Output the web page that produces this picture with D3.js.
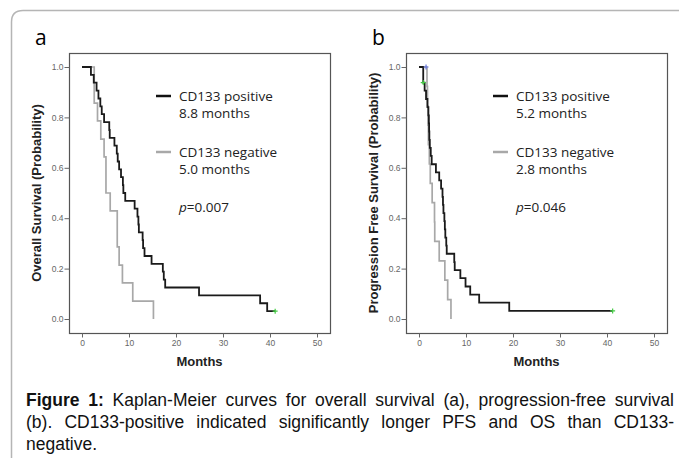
<!DOCTYPE html>
<html>
<head>
<meta charset="utf-8">
<script src="https://cdn.jsdelivr.net/npm/d3@7"></script>
<style>
  body { margin: 0; background: #fff; }
  svg { display: block; }
</style>
</head>
<body>
<div id="chartDiv"></div>
<script>
// ---- data (months, survival probability) ----
var osPositive = [
	[0, 1], [1.9, 0.969], [2.5, 0.938], [3.1, 0.906], [3.5, 0.875], [3.9, 0.844],
	[4.2, 0.813], [4.7, 0.781], [5.8, 0.75], [5.9, 0.719], [6.9, 0.688], [7.4, 0.656],
	[7.6, 0.625], [7.9, 0.594], [8.3, 0.563], [8.7, 0.531], [8.8, 0.5], [9.2, 0.469],
	[11.2, 0.438], [11.8, 0.406], [12.0, 0.375], [12.1, 0.344], [12.9, 0.313], [13.0, 0.281],
	[13.3, 0.25], [14.8, 0.219], [17.2, 0.188], [17.4, 0.156], [17.7, 0.125], [24.9, 0.094],
	[37.9, 0.0625], [39.4, 0.031], [41.1, 0.031]
];
var osNegative = [
	[0, 1], [2.6, 0.857], [3.3, 0.786], [4.0, 0.714], [4.7, 0.643], [5.1, 0.5],
	[6.0, 0.429], [7.5, 0.286], [7.9, 0.214], [8.6, 0.143], [10.8, 0.071], [15.2, 0]
];
var pfsPositive = [
	[0, 1], [0.9, 0.938], [1.2, 0.906], [1.5, 0.873], [1.8, 0.841], [2.0, 0.808],
	[2.1, 0.776], [2.15, 0.744], [2.2, 0.711], [2.3, 0.679], [2.5, 0.647], [2.7, 0.614],
	[3.6, 0.582], [4.3, 0.55], [4.7, 0.517], [5.0, 0.485], [5.1, 0.453], [5.2, 0.42],
	[5.4, 0.388], [5.5, 0.356], [5.6, 0.323], [5.8, 0.291], [5.9, 0.259], [7.5, 0.226],
	[7.6, 0.194], [8.8, 0.162], [9.9, 0.129], [10.9, 0.097], [12.8, 0.065], [19.2, 0.032],
	[41.2, 0.032]
];
var pfsNegative = [
	[0, 1], [1.7, 0.923], [1.8, 0.846], [1.9, 0.769], [2.0, 0.692], [2.2, 0.615],
	[2.4, 0.538], [2.8, 0.462], [3.3, 0.385], [3.35, 0.308], [4.3, 0.231], [5.5, 0.154],
	[6.1, 0.077], [6.8, 0]
];
// censored observations
var osCensored = [{t: 41.1, s: 0.031, c: "#44cc44"}];
var pfsCensored = [
	{t: 0.9, s: 0.938, c: "#44cc44"},
	{t: 1.5, s: 1.0, c: "#6677dd"},
	{t: 41.2, s: 0.032, c: "#44cc44"}
];

var xTicks = [0, 10, 20, 30, 40, 50];
var yTicks = [0, 0.2, 0.4, 0.6, 0.8, 1.0];

var panels = [
	{ letter: "a", left: 69, ytitle: "Overall Survival (Probability)",
	  pos: osPositive, neg: osNegative, cens: osCensored,
	  posLabel: ["CD133 positive", "8.8 months"], negLabel: ["CD133 negative", "5.0 months"],
	  p: "=0.007" },
	{ letter: "b", left: 406, ytitle: "Progression Free Survival (Probability)",
	  pos: pfsPositive, neg: pfsNegative, cens: pfsCensored,
	  posLabel: ["CD133 positive", "5.2 months"], negLabel: ["CD133 negative", "2.8 months"],
	  p: "=0.046" }
];

var captionLines = [
	"Kaplan-Meier curves for overall survival (a), progression-free survival",
	"(b). CD133-positive indicated significantly longer PFS and OS than CD133-",
	"negative."
];

var W = 679, H = 460;
var svg = d3.select("#chartDiv").append("svg").attr("width", W).attr("height", H);

// outer frame with rounded corner
svg.append("path")
	.attr("d", "M11.5,458 L11.5,22 Q11.5,10.5 23,10.5 L679,10.5")
	.attr("fill", "none").attr("stroke", "#b5b5b5").attr("stroke-width", 1.5);

var frameW = 261, frameTop = 53, frameBottom = 333;

panels.forEach(function(pn) {
	var g = svg.append("g");
	var x = d3.scaleLinear().domain([0, 50]).range([pn.left + 13, pn.left + 248]);
	var y = d3.scaleLinear().domain([0, 1]).range([319, 67]);

	g.append("text").attr("x", pn.left - 34).attr("y", 45)
		.attr("font-family", "Open Sans, sans-serif").attr("font-size", 21)
		.text(pn.letter);

	g.append("rect").attr("x", pn.left + 0.5).attr("y", frameTop + 0.5)
		.attr("width", frameW).attr("height", frameBottom - frameTop)
		.attr("fill", "none").attr("stroke", "#555").attr("stroke-width", 1.2);

	var yAxis = d3.axisLeft(y).tickValues(yTicks).tickFormat(d3.format(".1f"))
		.tickSize(5).tickPadding(1);
	g.append("g").attr("transform", "translate(" + (pn.left + 0.5) + ",0)").call(yAxis)
		.call(function(a) { a.select(".domain").remove(); });

	var xAxis = d3.axisBottom(x).tickValues(xTicks).tickSize(4).tickPadding(2);
	g.append("g").attr("transform", "translate(0," + (frameBottom + 0.5) + ")").call(xAxis)
		.call(function(a) { a.select(".domain").remove(); });

	g.selectAll(".tick line").attr("stroke", "#666");
	g.selectAll(".tick text").attr("fill", "#666")
		.attr("font-family", "Liberation Sans, Arial, sans-serif").attr("font-size", 8.5);

	g.append("text").attr("x", pn.left + frameW / 2).attr("y", 366)
		.attr("text-anchor", "middle")
		.attr("font-family", "Liberation Sans, Arial, sans-serif")
		.attr("font-weight", "bold").attr("font-size", 13).attr("fill", "#222")
		.text("Months");

	g.append("text")
		.attr("transform", "translate(" + (pn.left - 28) + "," + ((frameTop + frameBottom) / 2) + ") rotate(-90)")
		.attr("text-anchor", "middle")
		.attr("font-family", "Liberation Sans, Arial, sans-serif")
		.attr("font-weight", "bold").attr("font-size", 13).attr("fill", "#222")
		.text(pn.ytitle);

	var line = d3.line().curve(d3.curveStepAfter)
		.x(function(d) { return x(d[0]); })
		.y(function(d) { return y(d[1]); });

	g.append("path").datum(pn.neg).attr("d", line)
		.attr("fill", "none").attr("stroke", "#a8a8a8").attr("stroke-width", 1.7);
	g.append("path").datum(pn.pos).attr("d", line)
		.attr("fill", "none").attr("stroke", "#1a1a1a").attr("stroke-width", 1.8);

	g.selectAll(".cens").data(pn.cens).enter().append("path")
		.attr("transform", function(d) { return "translate(" + x(d.t) + "," + y(d.s) + ")"; })
		.attr("d", "M-2.5,0H2.5M0,-2.5V2.5")
		.attr("stroke", function(d) { return d.c; }).attr("stroke-width", 1.2);

	// legend
	var lx = pn.left + 87, tx = pn.left + 110;
	var font = "Open Sans, sans-serif";
	g.append("line").attr("x1", lx).attr("x2", lx + 15).attr("y1", 96).attr("y2", 96)
		.attr("stroke", "#111").attr("stroke-width", 2.5);
	g.append("line").attr("x1", lx).attr("x2", lx + 15).attr("y1", 152).attr("y2", 152)
		.attr("stroke", "#a8a8a8").attr("stroke-width", 2.5);
	[[pn.posLabel[0], 101], [pn.posLabel[1], 118], [pn.negLabel[0], 157], [pn.negLabel[1], 174]]
		.forEach(function(t) {
			g.append("text").attr("x", tx).attr("y", t[1]).attr("font-family", font)
				.attr("font-size", 13.5).attr("fill", "#222").text(t[0]);
		});
	var pt = g.append("text").attr("x", tx).attr("y", 212).attr("font-family", font)
		.attr("font-size", 13.5).attr("fill", "#222");
	pt.append("tspan").attr("font-style", "italic").text("p");
	pt.append("tspan").text(pn.p);
});

// caption, justified by stretching the spaces
var cap = svg.append("g").attr("font-family", "Liberation Sans, Arial, sans-serif")
	.attr("font-size", 17.5).attr("fill", "#111");
var capLeft = 26, capWidth = 648, capY = [406, 428, 450];

function justify(t) {
	var node = t.node();
	var w = node.getComputedTextLength();
	var spaces = (node.textContent.match(/ /g) || []).length;
	if (w > capWidth) {
		t.attr("textLength", capWidth).attr("lengthAdjust", "spacingAndGlyphs");
	} else if (spaces) {
		t.attr("word-spacing", (capWidth - w) / spaces);
	}
}

var l1 = cap.append("text").attr("x", capLeft).attr("y", capY[0]);
l1.append("tspan").attr("font-weight", "bold").text("Figure 1:");
l1.append("tspan").text(" " + captionLines[0]);
justify(l1);
var l2 = cap.append("text").attr("x", capLeft).attr("y", capY[1]).text(captionLines[1]);
justify(l2);
cap.append("text").attr("x", capLeft).attr("y", capY[2]).text(captionLines[2]);
</script>
</body>
</html>
